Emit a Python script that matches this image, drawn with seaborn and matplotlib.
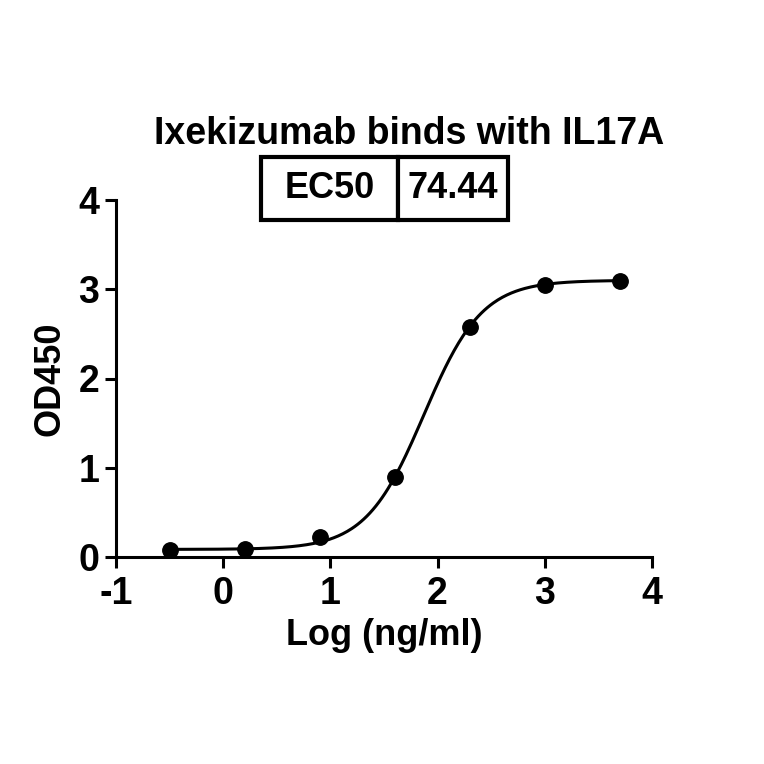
import numpy as np
import pandas as pd
import matplotlib
matplotlib.use("Agg")
import matplotlib.pyplot as plt
import seaborn as sns

# measured points
log_conc = [-0.5, 0.2, 0.9, 1.6, 2.3, 3.0, 3.7]
od450 = [0.08, 0.09, 0.22, 0.90, 2.58, 3.05, 3.09]

# 4PL fit parameters
fit_bottom = 0.085
fit_top = 3.10
ec50 = 74.44
fit_hill = 1.6

x_ticks = [-1, 0, 1, 2, 3, 4]
y_ticks = [0, 1, 2, 3, 4]


def four_pl(x):
    return fit_bottom + (fit_top - fit_bottom) / (1 + 10 ** ((np.log10(ec50) - x) * fit_hill))


sns.set_theme(style="ticks")
plt.rcParams['font.family'] = ['Liberation Sans', 'DejaVu Sans']
plt.rcParams['font.weight'] = 'bold'
for key in ['text.color', 'axes.labelcolor', 'xtick.color', 'ytick.color', 'axes.edgecolor']:
    plt.rcParams[key] = 'black'

points = pd.DataFrame({'x': log_conc, 'y': od450})
xs = np.linspace(min(log_conc), max(log_conc), 300)
curve = pd.DataFrame({'x': xs, 'y': four_pl(xs)})

fig = plt.figure(figsize=(7.64, 7.64), dpi=100)
ax = fig.add_axes([116 / 764, 1 - 557 / 764, 536 / 764, 357 / 764])

sns.lineplot(data=curve, x='x', y='y', ax=ax, color='black', linewidth=2.2)
sns.scatterplot(data=points, x='x', y='y', ax=ax, color='black', s=125, edgecolor='black', zorder=3)

ax.set_xlim(-1, 4)
ax.set_ylim(0, 4)
ax.set_xticks(x_ticks)
ax.set_yticks(y_ticks)
ax.set_xticklabels([str(t) for t in x_ticks])
ax.set_yticklabels([str(t) for t in y_ticks])
ax.tick_params(axis='both', length=8, width=2.2, labelsize=27, color='black', labelcolor='black')
ax.tick_params(axis='x', pad=6)
ax.tick_params(axis='y', pad=4)
for lbl in ax.get_xticklabels() + ax.get_yticklabels():
    lbl.set_fontweight('bold')

for side in ['left', 'bottom']:
    ax.spines[side].set_linewidth(2.2)
    ax.spines[side].set_color('black')
sns.despine(ax=ax)

ax.set_xlabel('Log (ng/ml)', fontsize=26, fontweight='bold', labelpad=4)
ax.set_ylabel('OD450', fontsize=26, fontweight='bold', labelpad=8)

fig.text(409 / 764, 1 - 134 / 764, 'Ixekizumab binds with IL17A', ha='center', va='center',
         fontsize=27, fontweight='bold')

# EC50 box
tbl = ax.table(cellText=[['EC50', f'{ec50:.2f}']], cellLoc='center',
               colWidths=[0.553, 0.447],
               bbox=[(261 - 116) / 536, (557 - 220) / 357, 247 / 536, 63 / 357])
tbl.auto_set_font_size(False)
for cell in tbl.get_celld().values():
    cell.set_linewidth(3)
    cell.set_edgecolor('black')
    cell.get_text().set_fontsize(26)
    cell.get_text().set_fontweight('bold')
    cell.get_text().set_color('black')
    cell.set_clip_on(False)

fig.savefig('out.png', dpi=100)
